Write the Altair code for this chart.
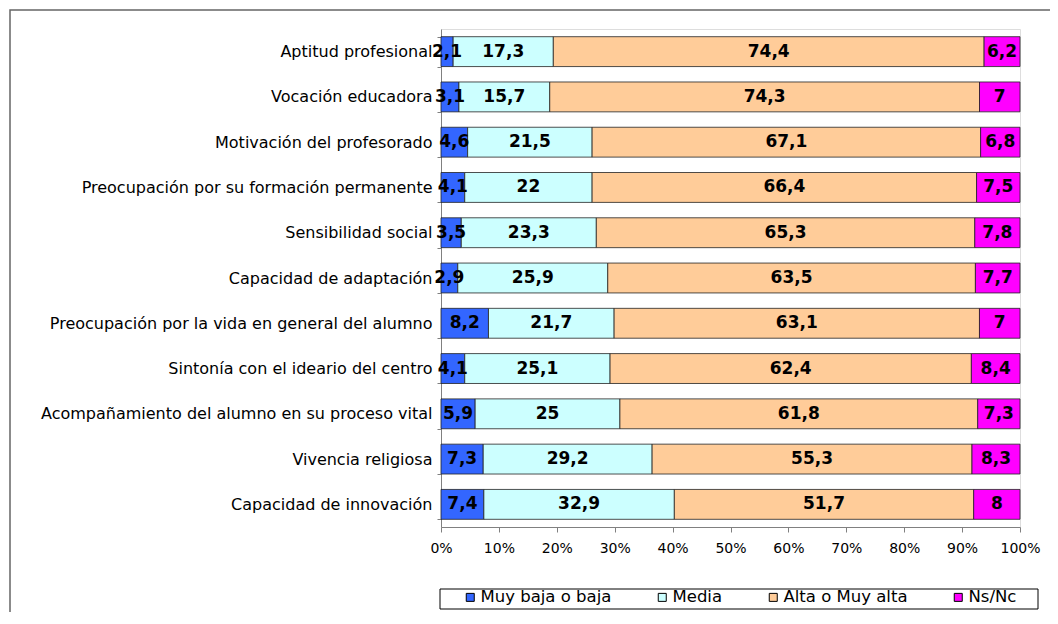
import altair as alt
import pandas as pd

categories = [
    "Aptitud profesional",
    "Vocación educadora",
    "Motivación del profesorado",
    "Preocupación por su formación permanente",
    "Sensibilidad social",
    "Capacidad de adaptación",
    "Preocupación por la vida en general del alumno",
    "Sintonía con el ideario del centro",
    "Acompañamiento del alumno en su proceso vital",
    "Vivencia religiosa",
    "Capacidad de innovación",
]
series = ["Muy baja o baja", "Media", "Alta o Muy alta", "Ns/Nc"]
muy_baja = [2.1, 3.1, 4.6, 4.1, 3.5, 2.9, 8.2, 4.1, 5.9, 7.3, 7.4]
media = [17.3, 15.7, 21.5, 22, 23.3, 25.9, 21.7, 25.1, 25, 29.2, 32.9]
alta = [74.4, 74.3, 67.1, 66.4, 65.3, 63.5, 63.1, 62.4, 61.8, 55.3, 51.7]
nsnc = [6.2, 7, 6.8, 7.5, 7.8, 7.7, 7, 8.4, 7.3, 8.3, 8]
colors = ["#3366FF", "#CCFFFF", "#FFCC99", "#FF00FF"]
x_ticks = [0, 0.1, 0.2, 0.3, 0.4, 0.5, 0.6, 0.7, 0.8, 0.9, 1.0]

rows = []
for si, (name, vals) in enumerate(zip(series, [muy_baja, media, alta, nsnc])):
    for c, v in zip(categories, vals):
        rows.append({"cat": c, "serie": name, "order": si, "value": v,
                     "label": f"{v:g}".replace(".", ",")})
df = pd.DataFrame(rows)

FONT = "DejaVu Sans"

base = alt.Chart(df).transform_stack(
    stack="value", groupby=["cat"], offset="normalize",
    as_=["x0", "x1"], sort=[alt.SortField("order", order="ascending")]
)

y_enc = alt.Y(
    "cat:N", sort=categories,
    scale=alt.Scale(paddingInner=0.34, paddingOuter=0.17),
    axis=alt.Axis(title=None, tickBand="extent", tickSize=4, labelPadding=5,
                  labelFontSize=16, labelColor="black", labelLimit=600,
                  domainColor="#808080", tickColor="#808080", labelFont=FONT),
)

bars = base.mark_bar(stroke="#222222", strokeWidth=0.8).encode(
    y=y_enc,
    x=alt.X("x0:Q", scale=alt.Scale(domain=[0, 1]),
            axis=alt.Axis(title=None, format=".0%", values=x_ticks, grid=False,
                          tickSize=5, labelPadding=9, labelFontSize=14,
                          labelFlush=False, labelColor="black",
                          domainColor="#808080", tickColor="#808080",
                          labelFont=FONT)),
    x2="x1:Q",
    color=alt.Color(
        "serie:N", sort=series,
        scale=alt.Scale(domain=series, range=colors),
        legend=alt.Legend(
            title=None, orient="none", legendX=21, legendY=560,
            direction="horizontal", columnPadding=42, padding=0,
            symbolType="square", symbolSize=64, symbolStrokeColor="black",
            symbolStrokeWidth=1, labelFontSize=16.5,
            labelFont=FONT, labelColor="black", labelOffset=2,
        ),
    ),
)

text = base.transform_calculate(xm="(datum.x0 + datum.x1) / 2").mark_text(
    fontWeight="bold", fontSize=17, font=FONT, color="black"
).encode(y=alt.Y("cat:N", sort=categories), x="xm:Q", text="label:N")

deco = alt.Data(values=[{"a": 1}])
frame = alt.Chart(deco).mark_rect(
    fill=None, stroke="#666666", strokeWidth=1.5
).encode(x=alt.value(-431), x2=alt.value(650), y=alt.value(-19), y2=alt.value(700))

legend_box = alt.Chart(deco).mark_rect(
    fill=None, stroke="black", strokeWidth=1
).encode(x=alt.value(-1), x2=alt.value(597), y=alt.value(560), y2=alt.value(580))

chart = alt.layer(frame, legend_box, bars, text).properties(
    width=579, height=498,
    autosize=alt.AutoSizeParams(type="none"),
    padding={"left": 433, "top": 21, "right": 30, "bottom": 85},
).configure_view(stroke=None).configure(font=FONT)

chart.save("out.html", embed_options={"renderer": "svg", "actions": False})
